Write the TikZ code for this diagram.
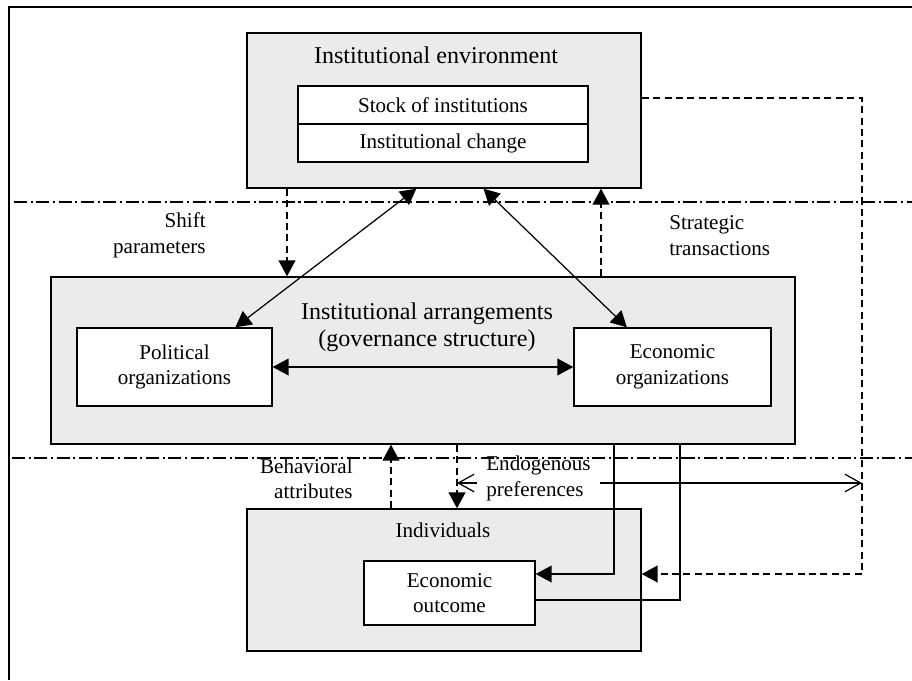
\documentclass[tikz,border=0pt]{standalone}
\usepackage{fontspec}
\setmainfont{Liberation Serif}
\usetikzlibrary{arrows.meta,calc}
\definecolor{boxgray}{RGB}{235,235,235}

\begin{document}
\begin{tikzpicture}[x=0.02cm,y=-0.02cm,
    every node/.style={font=\fontsize{12}{14.5}\selectfont},
    wh/.style 2 args={minimum width=#1*0.02cm,minimum height=#2*0.02cm},
    graybox/.style={draw,line width=0.8pt,fill=boxgray,inner sep=0pt},
    whitebox/.style={draw,line width=0.8pt,fill=white,align=center,inner sep=0pt},
    lbl/.style={inner sep=0pt},
    title/.style={inner sep=0pt,align=center,font=\fontsize{13.7}{15.6}\selectfont},
    tri/.tip={Triangle[length=9pt,width=9.5pt]},
    barb/.tip={Straight Barb[length=9pt,width=10pt]},
    sline/.style={line width=0.7pt},
    dline/.style={line width=0.9pt,dash pattern=on 4pt off 2.5pt},
    zone/.style={line width=0.9pt,dash pattern=on 7.5pt off 2pt on 1.2pt off 2pt}]

  \useasboundingbox (0,0) rectangle (912,680);

% frame
  \draw[line width=1.1pt] (912,7) -- (9,7) -- (9,680);

% institutional environment
  \node[graybox,wh={394}{155}] (env) at (444,110.5) {};
  \node[title] (envt) at (436,55) {Institutional environment};
  \node[whitebox,wh={290}{38}] (stock) at (443,105) {Stock of institutions};
  \node[whitebox,wh={290}{38}] (change) at (443,143) {Institutional change};

% institutional arrangements
  \node[graybox,wh={744}{167}] (arr) at (423,360.5) {};
  \node[title] (arrt) at (427,327) {Institutional arrangements\\(governance structure)};
  \node[whitebox,wh={195}{78}] (pol) at (174.5,367) {Political\\organizations};
  \node[whitebox,wh={197}{78}] (eco) at (672.5,367) {Economic\\organizations};

% individuals
  \node[graybox,wh={394}{142}] (indiv) at (444,580) {};
  \node[lbl] (indivt) at (443,530) {Individuals};
  \node[whitebox,wh={171}{64}] (outc) at (449.5,593) {Economic\\outcome};

% side labels
  \node[lbl,anchor=east,align=right] (shift) at (206,235.5) {Shift\\parameters};
  \node[lbl,anchor=west,align=left] (strat) at (669,235.5) {Strategic\\transactions};
  \node[lbl,anchor=east,align=right] (behav) at (353,479) {Behavioral\\attributes};

% columns and corners of the connectors
  \coordinate (cshift) at (287,0);
  \coordinate (cstrat) at (601,0);
  \coordinate (cbehav) at (391,0);
  \coordinate (cendo) at (457,0);
  \coordinate (einA) at (614,574);
  \coordinate (eoutA) at (680,600);
  \coordinate (loopA) at (862,98);
  \coordinate (loopB) at (862,574);
  \coordinate (endoR) at (862,483);

% vertical feedbacks
  \draw[dline,-tri] (env.south -| cshift) -- (arr.north -| cshift);
  \draw[dline,-tri] (arr.north -| cstrat) -- (env.south -| cstrat);
  \draw[dline,-tri] (indiv.north -| cbehav) -- (arr.south -| cbehav);
  \draw[dline,-tri] (arr.south -| cendo) -- (indiv.north -| cendo);
  \draw[dline,-tri] (env.east |- loopA) -- (loopA) -- (loopB) -- (indiv.east |- loopB);

% organizations
  \draw[sline,tri-tri] ($(env.south west)!0.43!(env.south east)$) -- ($(pol.north west)!0.81!(pol.north east)$);
  \draw[sline,tri-tri] ($(env.south west)!0.60!(env.south east)$) -- ($(eco.north west)!0.27!(eco.north east)$);
  \draw[sline,tri-tri] (pol) -- (eco);
  \draw[sline,-tri] (arr.south -| einA) -- (einA) -- (outc.east |- einA);
  \draw[sline] (outc.east |- eoutA) -- (eoutA) -- (arr.south -| eoutA);

% endogenous preferences
  \draw[sline,barb-barb] (cendo |- endoR) -- (endoR);
  \node[anchor=west,align=left,fill=white,inner xsep=0.18cm,inner ysep=1pt] (endo) at (477,478.5) {Endogenous\\preferences};

% level separators
  \draw[zone] (14,202) -- (912,202);
  \draw[zone] (12,458) -- (912,458);

\end{tikzpicture}
\end{document}
